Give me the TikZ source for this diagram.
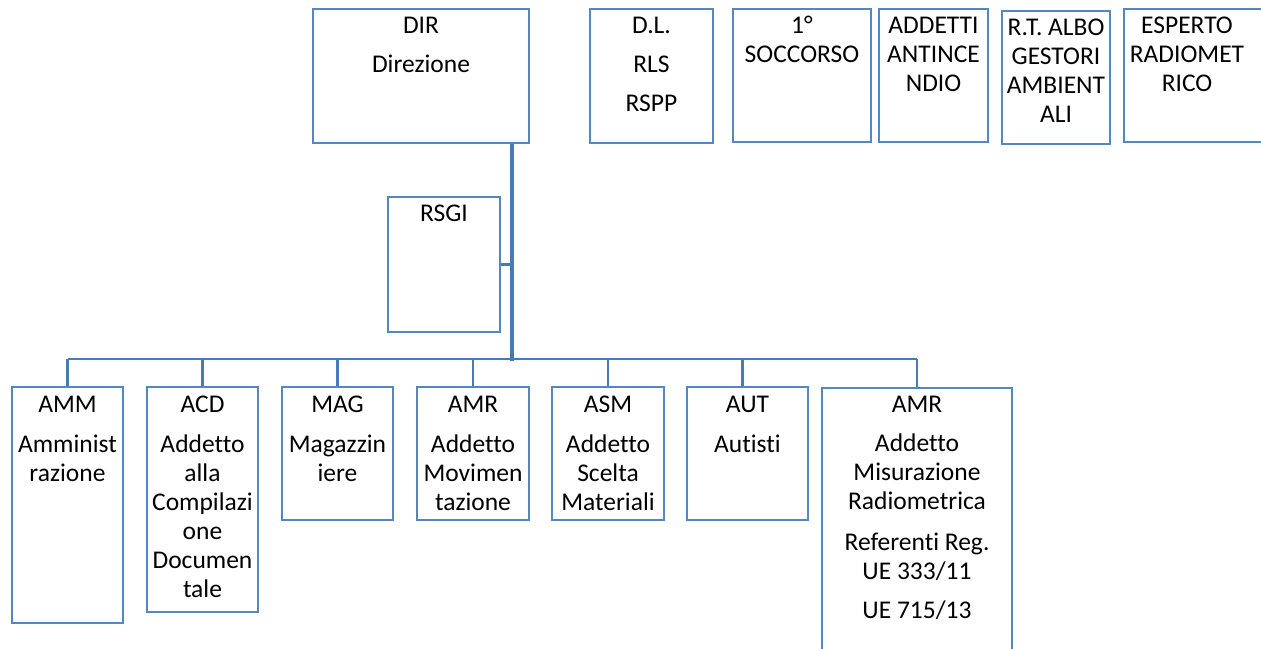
\documentclass[tikz,border=0pt]{standalone}
\usepackage{fontspec}
\setmainfont[Ligatures=NoCommon]{Carlito}
\usetikzlibrary{calc}
\definecolor{boxblue}{RGB}{84,134,194}
\definecolor{lineblue}{RGB}{72,122,180}
\begin{document}
\begin{tikzpicture}[x=1pt,y=-1pt,
  box/.style={draw=boxblue,line width=2.9pt,rectangle,inner sep=0pt,fill=white},
  txt/.style={font=\fontsize{25.5}{29}\selectfont,align=center,inner sep=0pt,anchor=north,text=black},
  conn/.style={draw=lineblue,line width=2.9pt},
  trunk/.style={draw=lineblue,line width=4pt}]
\useasboundingbox (0,0) rectangle (1261,648);
\clip (0,0) rectangle (1261,648);
% top row
\node[box,minimum width=216pt,minimum height=134pt] (dir) at (421,76) {};
\node[box,minimum width=123pt,minimum height=134pt] (dl) at (651.5,76) {};
\node[box,minimum width=138pt,minimum height=133pt] (socc) at (802,75.5) {};
\node[box,minimum width=109pt,minimum height=133pt] (anti) at (933.5,75.5) {};
\node[box,minimum width=108pt,minimum height=133pt] (albo) at (1056,77.5) {};
\node[box,minimum width=146pt,minimum height=133pt] (esp) at (1197,75.5) {};
% RSGI
\node[box,minimum width=112pt,minimum height=135pt] (rsgi) at (444,264.5) {};
% bottom row
\node[box,minimum width=111pt,minimum height=236pt] (amm) at (67.5,505) {};
\node[box,minimum width=111pt,minimum height=225pt] (acd) at (202.5,499.5) {};
\node[box,minimum width=111pt,minimum height=133pt] (mag) at (337.5,453.5) {};
\node[box,minimum width=112pt,minimum height=133pt] (amr) at (473,453.5) {};
\node[box,minimum width=112pt,minimum height=133pt] (asm) at (608,453.5) {};
\node[box,minimum width=121pt,minimum height=133pt] (aut) at (747.5,453.5) {};
\node[box,minimum width=190pt,minimum height=292pt] (amrb) at (917,534) {};
% connectors
\coordinate (bus) at (511.5,359);
\draw[trunk] (dir.south -| bus) -- ($(bus)+(0,1.5)$);
\draw[conn] (rsgi.east) -- (rsgi.east -| bus);
\draw[conn] (bus -| amm.north) -- (bus -| amrb.north);
\draw[conn] (bus -| amm.north) -- (amm.north);
\draw[conn] (bus -| acd.north) -- (acd.north);
\draw[conn] (bus -| mag.north) -- (mag.north);
\draw[conn] (bus -| amr.north) -- (amr.north);
\draw[conn] (bus -| asm.north) -- (asm.north);
\coordinate (autdrop) at ($(aut.north)+(-5,0)$);
\draw[conn] (bus -| autdrop) -- (autdrop);
\draw[conn] (bus -| amrb.north) -- (amrb.north);
% texts
\node[txt] (tdir) at ($(dir.north)+(0,5.2)$) {\strut DIR\\[10pt]Direzione};
\node[txt] (tdl) at ($(dl.north)+(0,5.2)$) {\strut D.L.\\[10pt]RLS\\[10pt]RSPP};
\node[txt] (tsocc) at ($(socc.north)+(0,5.2)$) {\strut 1°\\SOCCORSO};
\node[txt] (tanti) at ($(anti.north)+(0,5.2)$) {\strut ADDETTI\\ANTINCE\\NDIO};
\node[txt] (talbo) at ($(albo.north)+(0,5.2)$) {\strut R.T. ALBO\\GESTORI\\AMBIENT\\ALI};
\node[txt] (tesp) at ($(esp.north)+(-10,5.2)$) {\strut ESPERTO\\RADIOMET\\RICO};
\node[txt] (trsgi) at ($(rsgi.north)+(0,5.5)$) {\strut RSGI};
\node[txt] (tamm) at ($(amm.north)+(0,6)$) {\strut AMM\\[11pt]Amminist\\razione};
\node[txt] (tacd) at ($(acd.north)+(0,6)$) {\strut ACD\\[11pt]Addetto\\alla\\Compilazi\\one\\Documen\\tale};
\node[txt] (tmag) at ($(mag.north)+(0,6)$) {\strut MAG\\[11pt]Magazzin\\iere};
\node[txt] (tamr) at ($(amr.north)+(0,6)$) {\strut AMR\\[11pt]Addetto\\Movimen\\tazione};
\node[txt] (tasm) at ($(asm.north)+(0,6)$) {\strut ASM\\[11pt]Addetto\\Scelta\\Materiali};
\node[txt] (taut) at ($(aut.north)+(0,6)$) {\strut AUT\\[11pt]Autisti};
\node[txt] (tamrb) at ($(amrb.north)+(0,5)$) {\strut AMR\\[10pt]Addetto\\Misurazione\\Radiometrica\\[12pt]Referenti Reg.\\UE 333/11\\[10pt]UE 715/13};
\end{tikzpicture}
\end{document}
